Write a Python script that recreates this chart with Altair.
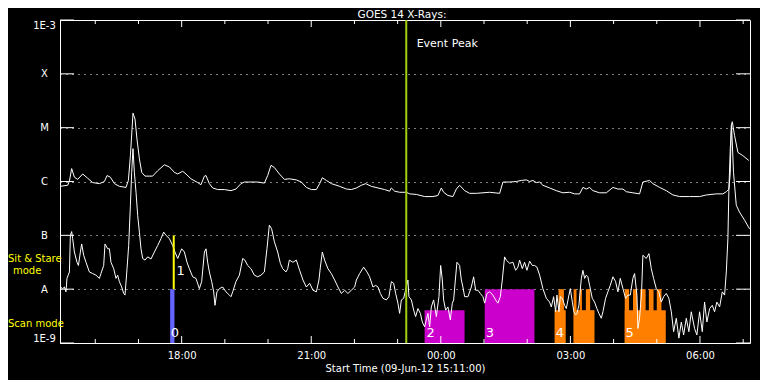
import altair as alt
import pandas as pd

# ---- data (time: minutes since 09-Jun-12 15:11:00, value: log10 flux W/m^2) ----
long_channel = [
    (0, -6.09), (10.7, -6.07), (13.1, -5.99), (16.2, -5.76), (20, -5.92), (24.6, -5.96), (31.6, -5.86),
    (38.5, -5.94), (45.4, -6.02), (54.7, -6.04), (61.7, -6.00), (65.3, -5.89), (70, -5.92), (75.6, -6.04),
    (82.5, -6.09), (91.7, -6.11), (95, -5.98), (97.8, -5.52), (101.4, -4.73), (104.2, -4.84), (106.9, -5.21),
    (110.3, -5.58), (113.5, -5.83), (118, -5.90), (128.7, -5.90), (135.7, -5.80), (145, -5.69), (151.9, -5.73),
    (158.9, -5.83), (163.5, -5.86), (170.4, -5.81), (175, -5.86), (181.9, -5.95), (191.3, -6.02), (195.8, -6.06),
    (200.6, -5.90), (202.8, -5.89), (207.5, -6.04), (212.1, -6.12), (219, -6.15), (228.3, -6.15), (237.5, -6.17),
    (244.4, -6.14), (251.4, -6.04), (256.1, -6.01), (274.6, -6.01), (283.9, -6.03), (288.5, -5.89), (293.1, -5.70),
    (297.8, -5.74), (304.7, -5.86), (311.7, -5.96), (318.6, -5.95), (328.3, -5.97), (335.3, -6.01), (342.2, -6.11),
    (349.2, -6.15), (356.1, -6.15), (360.7, -6.04), (364.4, -5.93), (370, -5.98), (377, -6.04), (388.5, -6.09),
    (397.8, -6.14), (404.7, -6.15), (411.7, -6.12), (418.6, -6.07), (424.6, -6.04), (432.5, -6.09), (441.7, -6.12),
    (451, -6.15), (457.9, -6.18), (460.3, -6.12), (464.9, -6.18), (471.8, -6.20), (481.1, -6.20), (485.7, -6.23),
    (495, -6.24), (506.5, -6.28), (518, -6.28), (525, -6.26), (529.7, -6.12), (532.9, -6.20), (538.9, -6.26),
    (545.8, -6.28), (550.6, -6.14), (555.1, -6.07), (562.1, -6.17), (569, -6.22), (578.3, -6.22), (596.8, -6.20),
    (610.7, -6.22), (615.3, -6.01), (624.6, -6.01), (633.9, -6.00), (640.8, -5.98), (647.8, -5.97), (652.4, -6.00),
    (657, -5.98), (661.7, -6.02), (666.3, -6.01), (670.8, -6.07), (680.1, -6.12), (689.4, -6.17), (698.6, -6.21),
    (707.9, -6.20), (714.9, -6.23), (721.8, -6.23), (726.4, -6.11), (731.1, -6.14), (735.7, -6.11), (740.3, -6.17),
    (749.6, -6.21), (758.9, -6.21), (768.1, -6.11), (775, -6.14), (782, -6.14), (786.7, -6.19), (795.8, -6.21),
    (805.1, -6.23), (809.7, -6.01), (819, -5.98), (823.6, -6.04), (832.9, -6.11), (842.2, -6.17), (851.4, -6.25),
    (860.7, -6.28), (874.6, -6.28), (888.5, -6.28), (897.8, -6.25), (911.7, -6.23), (920.8, -6.23), (925.6, -6.19),
    (929.2, -6.14), (931.1, -5.83), (932.5, -4.96), (933.9, -4.89), (937.1, -5.15), (941.7, -5.46), (948.6, -5.52),
    (956.9, -5.61),
]

short_channel = [
    (0.6, -7.96), (3.8, -7.99), (6.1, -7.96), (8.3, -8.05), (9.7, -7.80), (13.1, -7.68), (14.4, -7.00), (16.2, -6.93),
    (17.6, -7.06), (20, -7.31), (23.6, -7.50), (25.6, -7.56), (28.3, -7.31), (30.1, -7.16), (32.9, -7.37), (36.1, -7.50),
    (40.8, -7.68), (45.4, -7.71), (50, -7.74), (54.7, -7.80), (56.9, -7.71), (60.7, -7.56), (62.5, -7.16), (66.3, -7.25),
    (68.6, -7.25), (70.8, -7.50), (74.6, -7.62), (77.8, -7.80), (80.1, -7.74), (82.5, -7.86), (85.7, -7.96), (88.5, -8.08),
    (90.3, -8.11), (93.1, -7.62), (95.4, -7.19), (97.8, -6.44), (99.6, -5.83), (101.4, -5.39), (103.3, -5.83),
    (105.6, -6.20), (107.9, -6.63), (110.3, -6.94), (112.5, -7.25), (114.9, -7.43), (118.1, -7.46), (121.8, -7.40),
    (126.4, -7.44), (131.1, -7.31), (135.7, -7.19), (140.3, -7.06), (144, -6.94), (147.2, -7.00), (151.9, -7.06),
    (156.5, -7.19), (159.7, -7.31), (163.5, -7.43), (167.2, -7.31), (169, -7.25), (172.8, -7.31), (176.4, -7.50),
    (179.7, -7.62), (184.3, -7.77), (188.9, -7.80), (193.6, -7.99), (196.8, -7.86), (200.6, -7.31), (202.8, -7.25),
    (205.1, -7.50), (207.5, -7.68), (210.7, -7.86), (213.5, -8.05), (215.3, -8.30), (218, -8.05), (221.4, -7.99),
    (226, -7.96), (230.6, -8.05), (235.3, -8.11), (237.5, -8.14), (239.9, -8.05), (244.4, -7.86), (249.2, -7.74),
    (253.8, -7.43), (256.9, -7.46), (260.7, -7.56), (265.3, -7.62), (270, -7.74), (274.6, -7.77), (279.2, -7.74),
    (283.9, -7.68), (287.5, -7.25), (290.8, -6.81), (294, -6.88), (297.8, -7.12), (302.4, -7.31), (306.1, -7.52),
    (309.3, -7.62), (313.9, -7.68), (316.3, -7.62), (318.6, -7.46), (323.6, -7.50), (328.3, -7.46), (332.9, -7.65),
    (337.5, -7.83), (342.2, -7.96), (346.8, -7.89), (351.4, -8.02), (356.1, -8.05), (359.7, -7.83), (361.7, -7.59),
    (364.4, -7.31), (367.6, -7.46), (372.2, -7.62), (376.9, -7.71), (381.5, -7.83), (386.1, -7.96), (390.8, -8.08),
    (395.4, -8.02), (400, -8.08), (404.7, -8.02), (409.3, -7.96), (411.7, -7.83), (416.3, -7.71), (421.8, -7.59),
    (426.4, -7.68), (430.1, -7.77), (434.7, -7.96), (438.5, -7.93), (441.7, -7.96), (445, -8.08), (448.6, -8.17),
    (453.3, -8.20), (456.9, -8.14), (460.3, -7.86), (463.5, -7.89), (466.3, -8.08), (469.4, -8.26), (471.8, -8.45),
    (474.2, -8.20), (477.4, -8.17), (481.1, -7.96), (483.3, -7.83), (484.7, -8.14), (488.1, -8.20), (491.3, -8.39),
    (494, -8.51), (497.2, -8.36), (500.6, -8.45), (503.3, -8.61), (506.5, -8.70), (508.9, -8.57), (511.1, -8.45),
    (513.5, -8.70), (515.8, -8.33), (519, -8.20), (522.8, -8.51), (526.4, -8.14), (528.8, -7.56), (531.1, -7.83),
    (532.9, -8.20), (535.7, -8.39), (538.9, -8.33), (542.2, -8.57), (545, -8.26), (546.8, -8.20), (549.2, -7.83),
    (551.4, -7.50), (555.1, -7.56), (557.5, -7.83), (559.7, -7.96), (562.1, -8.14), (566.7, -8.14), (571.4, -7.96),
    (574.6, -7.77), (577.4, -8.02), (580.6, -8.02), (583.9, -8.08), (587.5, -8.14), (589.9, -8.26), (593.1, -8.08),
    (596.8, -8.05), (601.4, -8.11), (605.1, -8.20), (608.3, -8.26), (611.7, -8.14), (614.4, -7.83), (617.6, -7.40),
    (620, -7.46), (624.6, -7.52), (629.2, -7.50), (632.9, -7.65), (636.1, -7.59), (638.5, -7.46), (642.2, -7.62),
    (645.4, -7.50), (648.6, -7.65), (652.4, -7.48), (656.1, -7.56), (659.3, -7.56), (662.5, -7.59), (666.3, -7.74),
    (670.8, -7.99), (675.6, -8.17), (680.1, -8.24), (682.5, -8.33), (685.7, -8.14), (688.5, -8.42), (690.3, -8.11),
    (693.1, -8.42), (695, -8.14), (697.8, -8.17), (701, -8.30), (703.3, -8.36), (707, -8.11), (708.9, -7.99),
    (711.7, -8.24), (713.9, -8.42), (716.2, -8.48), (718.1, -8.45), (720.8, -8.30), (724.2, -7.80), (726.4, -7.65),
    (728.8, -7.80), (731.1, -7.74), (733.3, -7.77), (735.7, -7.93), (739.4, -8.17), (742.6, -8.24), (745.8, -8.36),
    (748.6, -8.45), (751.9, -8.54), (754.2, -8.42), (757.9, -8.17), (761.1, -8.05), (764.4, -7.93), (768.1, -7.77),
    (771.8, -7.86), (775, -8.05), (778.3, -7.80), (782, -7.99), (785.7, -8.17), (788.9, -8.11), (792.2, -8.11),
    (795.8, -7.80), (798.2, -7.71), (801.4, -8.11), (802.8, -8.73), (805.1, -8.54), (807.9, -8.05), (809.7, -7.37),
    (814.4, -7.43), (818.1, -7.34), (821.4, -7.62), (824.6, -7.80), (828.3, -7.99), (831.9, -8.05), (835.3, -8.24),
    (838.5, -8.14), (842.2, -8.08), (845.8, -8.17), (849.2, -8.42), (852.4, -8.79), (856.1, -8.54), (859.7, -8.91),
    (863.1, -8.61), (866.3, -8.85), (870, -8.54), (873.6, -8.79), (876.9, -8.42), (881.5, -8.73), (884.7, -8.85),
    (888.5, -8.42), (892.2, -8.79), (895.4, -8.24), (898.6, -8.61), (902.4, -8.36), (906.1, -8.30), (909.3, -8.42),
    (912.5, -8.24), (916.3, -8.33), (920, -8.05), (923.2, -8.11), (925.6, -7.68), (927.8, -7.06), (929.2, -6.14),
    (931.1, -5.39), (932.9, -4.96), (935.6, -5.83), (939.4, -6.44), (944, -6.57), (951, -6.72), (957.9, -6.88),
]

# observation blocks: (start, end, top, raster id)
obs_blocks = [
    (153, 159, -8.0, "0"),
    (506.5, 562, -8.39, "2"),
    (590, 659, -8.0, "3"),
    (687, 702.5, -8.39, "4"), (692.5, 700, -8.0, "4"),
    (713.5, 742.5, -8.39, "4"), (713.5, 717.5, -8.0, "4"), (722, 725, -8.0, "4"), (730.5, 736.5, -8.0, "4"),
    (784.5, 841.5, -8.39, "5"), (784.5, 790.5, -8.0, "5"), (796, 801.5, -8.0, "5"),
    (806, 813.5, -8.0, "5"), (818, 824.5, -8.0, "5"), (829, 835.5, -8.0, "5"),
]
raster_ids = ["0", "2", "3", "4", "5"]
raster_colors = ["#6464ff", "#cc00cc", "#cc00cc", "#ff8000", "#ff8000"]

sit_stare = [(158, -8.0, -7.0)]
event_peak_t = 481
raster_labels = [("0", 154, -8.81), ("1", 162, -7.67), ("2", 509, -8.81),
                 ("3", 591.5, -8.81), ("4", 688.5, -8.81), ("5", 785.5, -8.81)]

y_tick_values = [-9, -8, -7, -6, -5, -4, -3]
y_tick_labels = ["1E-9", "A", "B", "C", "M", "X", "1E-3"]
x_major_ticks = [169, 349, 529, 709, 889]
x_major_labels = ["18:00", "21:00", "00:00", "03:00", "06:00"]
x_minor_ticks = [49, 109, 229, 289, 409, 469, 589, 649, 769, 829, 949]

# ---- chart ----
W, H = 690, 323
FONT = "DejaVu Sans"
xs = alt.Scale(domain=[0, 958.5], nice=False, zero=False)
ys = alt.Scale(domain=[-9, -3], nice=False, zero=False)


def chain(values, labels):
    expr = "''"
    for v, l in reversed(list(zip(values, labels))):
        expr = "datum.value == %s ? '%s' : (%s)" % (v, l, expr)
    return expr


lines_df = pd.DataFrame(
    [{"t": t, "e": e, "ch": "long"} for t, e in long_channel]
    + [{"t": t, "e": e, "ch": "short"} for t, e in short_channel]
)
blocks_df = pd.DataFrame([{"t": a, "t2": b, "top": c, "bottom": -9, "id": d} for a, b, c, d in obs_blocks])
sit_df = pd.DataFrame([{"t": t, "e1": a, "e2": b} for t, a, b in sit_stare])
peak_df = pd.DataFrame([{"t": event_peak_t, "e1": -9, "e2": -3}])
rl_df = pd.DataFrame([{"label": l, "t": t, "e": e} for l, t, e in raster_labels])
ytick_df = pd.DataFrame({"e": y_tick_values})
xmaj_df = pd.DataFrame({"t": x_major_ticks})
xmin_df = pd.DataFrame({"t": x_minor_ticks})

x_axis = alt.Axis(
    values=x_major_ticks,
    labelExpr=chain(x_major_ticks, x_major_labels),
    title="Start Time (09-Jun-12 15:11:00)",
    domain=False, ticks=False, tickSize=0, grid=False,
    labelPadding=7, labelColor="white", labelFont=FONT, labelFontSize=10,
    titleColor="white", titleFont=FONT, titleFontSize=10, titleFontWeight="normal",
    titlePadding=3,
)
y_axis = alt.Axis(
    values=y_tick_values,
    labelExpr=chain(y_tick_values, y_tick_labels),
    title=None, domain=False, ticks=False, tickSize=0,
    grid=True, gridColor="white", gridDash=[1, 5], gridWidth=1,
    labelAlign="center", labelPadding=16, labelFlush=True,
    labelColor="white", labelFont=FONT, labelFontSize=10,
)

X = lambda f: alt.X(f, scale=xs, axis=x_axis)
Y = lambda f: alt.Y(f, scale=ys, axis=y_axis)

lines = alt.Chart(lines_df).mark_line(color="white", strokeWidth=1).encode(
    x=X("t:Q"), y=Y("e:Q"), detail="ch:N",
)

blocks = alt.Chart(blocks_df).mark_rect().encode(
    x=X("t:Q"), x2="t2:Q",
    y=Y("top:Q"), y2="bottom:Q",
    color=alt.Color("id:N", scale=alt.Scale(domain=raster_ids, range=raster_colors), legend=None),
)

sit = alt.Chart(sit_df).mark_rule(color="#ffff00", strokeWidth=2).encode(
    x=X("t:Q"), y=Y("e1:Q"), y2="e2:Q",
)
peak = alt.Chart(peak_df).mark_rule(color="#a0d010", strokeWidth=2).encode(
    x=X("t:Q"), y=Y("e1:Q"), y2="e2:Q",
)
peak_text = alt.Chart(pd.DataFrame([{"t": 495.4, "e": -3.44, "label": "Event Peak"}])).mark_text(
    color="white", align="left", baseline="middle", font=FONT, fontSize=11
).encode(x=X("t:Q"), y=Y("e:Q"), text="label:N")

rl_text = alt.Chart(rl_df).mark_text(
    color="white", align="left", baseline="middle", font=FONT, fontSize=13
).encode(x=X("t:Q"), y=Y("e:Q"), text="label:N")

# inward ticks
yt_left = alt.Chart(ytick_df).mark_rule(color="white", strokeWidth=1).encode(
    y=Y("e:Q"), x=alt.value(0), x2=alt.value(14))
yt_right = alt.Chart(ytick_df).mark_rule(color="white", strokeWidth=1).encode(
    y=Y("e:Q"), x=alt.value(W - 14), x2=alt.value(W))
xt_maj_b = alt.Chart(xmaj_df).mark_rule(color="white").encode(
    x=X("t:Q"), y=alt.value(H), y2=alt.value(H - 7))
xt_maj_t = alt.Chart(xmaj_df).mark_rule(color="white").encode(
    x=X("t:Q"), y=alt.value(0), y2=alt.value(7))
xt_min_b = alt.Chart(xmin_df).mark_rule(color="white").encode(
    x=X("t:Q"), y=alt.value(H), y2=alt.value(H - 4))
xt_min_t = alt.Chart(xmin_df).mark_rule(color="white").encode(
    x=X("t:Q"), y=alt.value(0), y2=alt.value(4))

mode_df = pd.DataFrame([{"label": "Sit & Stare", "e": -7.44}, {"label": "Scan mode", "e": -8.65}])
mode_text = alt.Chart(mode_df).mark_text(
    color="#ffff00", align="left", baseline="middle", font=FONT, fontSize=10
).encode(x=alt.value(-52), y=Y("e:Q"), text="label:N")
mode2_text = alt.Chart(pd.DataFrame([{"label": "mode", "e": -7.67}])).mark_text(
    color="#ffff00", align="left", baseline="middle", font=FONT, fontSize=10
).encode(x=alt.value(-47), y=Y("e:Q"), text="label:N")

title_text = alt.Chart(pd.DataFrame([{"label": "GOES 14 X-Rays:"}])).mark_text(
    color="white", align="center", baseline="alphabetic", font=FONT, fontSize=10.5
).encode(x=alt.value(342), y=alt.value(-2), text="label:N")

chart = alt.layer(
    blocks, lines, yt_left, yt_right, xt_maj_b, xt_maj_t, xt_min_b, xt_min_t,
    sit, peak, peak_text, rl_text, mode_text, mode2_text, title_text,
).properties(
    width=W, height=H,
    autosize=alt.AutoSizeParams(type="none"),
    padding={"left": 52, "top": 12, "right": 10, "bottom": 37},
    background="black",
).configure_view(
    stroke="white", strokeWidth=1, fill="black",
)

chart.save("out.html", embed_options={"renderer": "svg", "actions": False})
